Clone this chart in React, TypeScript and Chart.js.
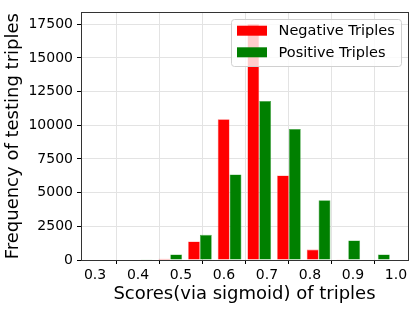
import React, { useEffect, useRef } from "react";
import { Chart, registerables } from "chart.js";

Chart.register(...registerables);

// Histogram bins (centres of 10 equal bins over the score range)
const binCenters = [0.337, 0.406, 0.475, 0.544, 0.613, 0.682, 0.751, 0.82, 0.889, 0.958];
const negativeCounts = [0, 0, 90, 1380, 10450, 17520, 6280, 775, 20, 0];
const positiveCounts = [0, 50, 410, 1870, 6350, 11800, 9720, 4440, 1450, 410];
const seriesLabels = ["Negative Triples", "Positive Triples"];
const seriesColors = ["#ff0000", "#008000"];
const seriesEdges = ["#ff7070", "#48a848"];
const xTicks = [0.3, 0.4, 0.5, 0.6, 0.7, 0.8, 0.9, 1.0];
const yTicks = [0, 2500, 5000, 7500, 10000, 12500, 15000, 17500];
const xTitle = "Scores(via sigmoid) of triples";
const yTitle = "Frequency of testing triples";

const FONT = '"DejaVu Sans", "Liberation Sans", sans-serif';

const framePlugin = {
  id: "frame",
  afterDraw(chart: any) {
    const { ctx, chartArea } = chart;
    ctx.save();
    ctx.strokeStyle = "#333333";
    ctx.lineWidth = 1;
    ctx.strokeRect(
      Math.round(chartArea.left) + 0.5,
      Math.round(chartArea.top) + 0.5,
      Math.round(chartArea.right - chartArea.left),
      Math.round(chartArea.bottom - chartArea.top)
    );
    ctx.restore();
  },
};

const legendPlugin = {
  id: "insideLegend",
  afterDraw(chart: any) {
    const { ctx, chartArea } = chart;
    const w = 170;
    const h = 47;
    const x = Math.round(chartArea.right - 7 - w);
    const y = Math.round(chartArea.top + 7);
    ctx.save();
    ctx.beginPath();
    if ((ctx as any).roundRect) {
      (ctx as any).roundRect(x + 0.5, y + 0.5, w, h, 3);
    } else {
      ctx.rect(x + 0.5, y + 0.5, w, h);
    }
    ctx.fillStyle = "rgba(255,255,255,0.8)";
    ctx.fill();
    ctx.strokeStyle = "#d0d0d0";
    ctx.lineWidth = 1;
    ctx.stroke();
    chart.data.datasets.forEach((ds: any, i: number) => {
      const rowY = y + 11.7 + i * 21.6;
      ctx.fillStyle = ds.backgroundColor;
      ctx.fillRect(x + 6, rowY - 5, 30, 10);
      ctx.fillStyle = "#000000";
      ctx.font = "14.5px " + FONT;
      ctx.textBaseline = "middle";
      ctx.textAlign = "left";
      ctx.fillText(ds.label, x + 47.6, rowY + 0.5);
    });
    ctx.restore();
  },
};

export default function App() {
  const canvasRef = useRef<HTMLCanvasElement | null>(null);

  useEffect(() => {
    document.body.style.margin = "0";
    const canvas = canvasRef.current;
    if (!canvas) return;

    const makeData = (vals: number[]) => binCenters.map((c, i) => ({ x: c, y: vals[i] }));

    const chart = new Chart(canvas, {
      type: "bar",
      data: {
        datasets: [
          {
            label: seriesLabels[0],
            data: makeData(negativeCounts),
            backgroundColor: seriesColors[0],
            borderColor: seriesEdges[0],
            borderWidth: 0.6,
            categoryPercentage: 0.8,
            barPercentage: 1.0,
          },
          {
            label: seriesLabels[1],
            data: makeData(positiveCounts),
            backgroundColor: seriesColors[1],
            borderColor: seriesEdges[1],
            borderWidth: 0.6,
            categoryPercentage: 0.8,
            barPercentage: 1.0,
          },
        ],
      },
      options: {
        animation: false,
        responsive: false,
        maintainAspectRatio: false,
        devicePixelRatio: 1,
        layout: { padding: { left: 0, top: 7, right: 7, bottom: 0 } },
        plugins: {
          legend: { display: false },
          tooltip: { enabled: false },
        },
        scales: {
          x: {
            type: "linear",
            z: 1,
            min: 0.2674,
            max: 1.028,
            offset: false,
            afterBuildTicks: (s: any) => {
              s.ticks = xTicks.map((v) => ({ value: v }));
            },
            afterFit: (s: any) => {
              s.height = 49;
            },
            ticks: {
              autoSkip: false,
              maxRotation: 0,
              padding: 3,
              color: "#000000",
              font: { family: FONT, size: 14 },
              callback: (v: any) => Number(v).toFixed(1),
            },
            grid: {
              color: "#e3e3e3",
              lineWidth: 1,
              tickColor: "#000000",
              tickLength: 4,
              tickWidth: 1,
            },
            border: { display: true, color: "#333333", width: 1 },
            title: {
              display: true,
              text: xTitle,
              color: "#000000",
              font: { family: FONT, size: 18 },
              padding: { top: 0, bottom: 4 },
            },
          },
          y: {
            type: "linear",
            z: 1,
            min: 0,
            max: 18375,
            afterBuildTicks: (s: any) => {
              s.ticks = yTicks.map((v) => ({ value: v }));
            },
            afterFit: (s: any) => {
              s.width = 81;
            },
            ticks: {
              autoSkip: false,
              padding: 4,
              color: "#000000",
              font: { family: FONT, size: 14 },
              callback: (v: any) => String(v),
            },
            grid: {
              color: "#e3e3e3",
              lineWidth: 1,
              tickColor: "#000000",
              tickLength: 4,
              tickWidth: 1,
            },
            border: { display: true, color: "#333333", width: 1 },
            title: {
              display: true,
              text: yTitle,
              color: "#000000",
              font: { family: FONT, size: 18 },
              padding: { top: 3, bottom: 0 },
            },
          },
        },
      },
      plugins: [framePlugin, legendPlugin],
    } as any);

    return () => {
      chart.destroy();
    };
  }, []);

  return (
    <div style={{ position: "absolute", left: 0, top: 0, width: 415, height: 309 }}>
      <canvas ref={canvasRef} width={415} height={309} style={{ width: 415, height: 309 }} />
    </div>
  );
}
